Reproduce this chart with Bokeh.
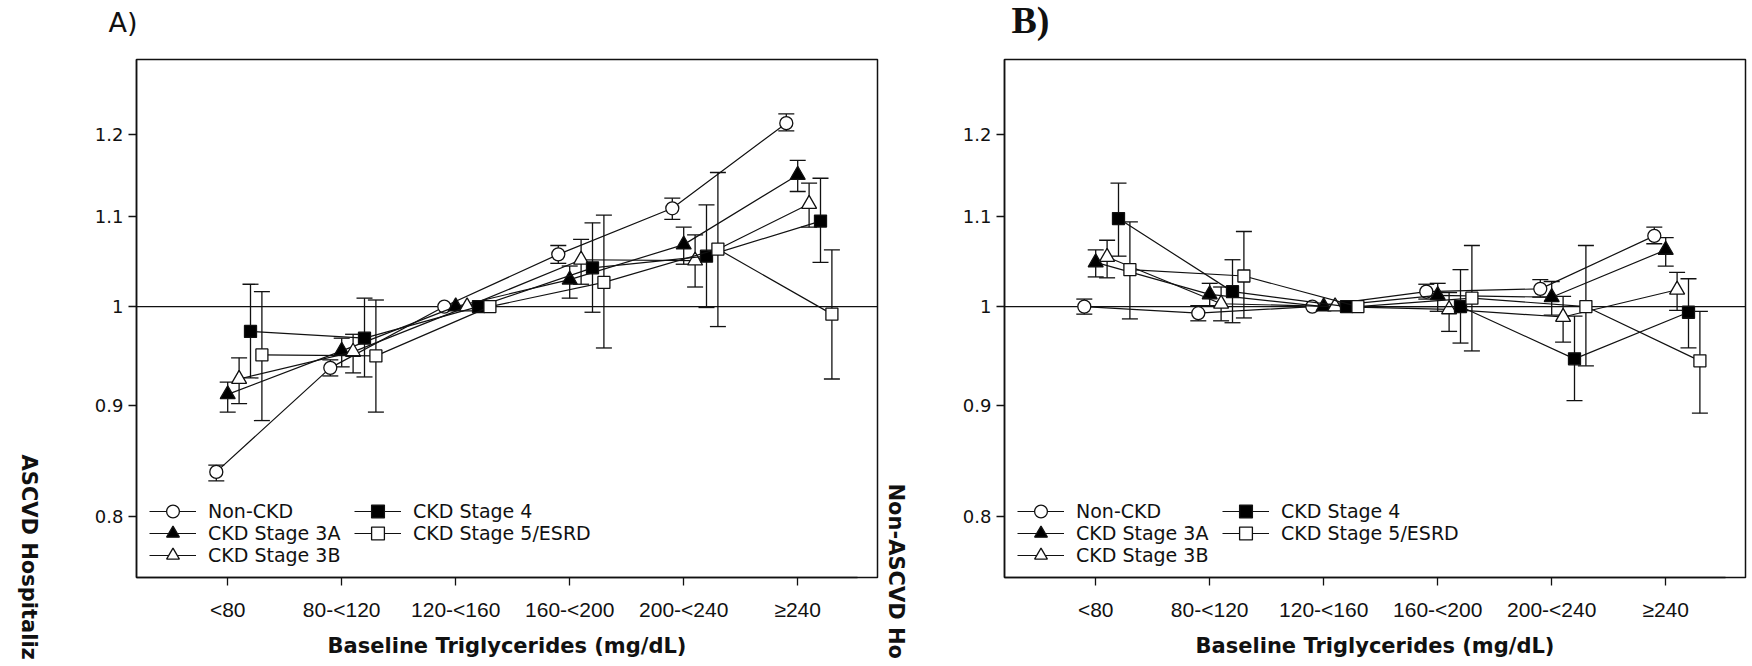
import math
from bokeh.plotting import figure
from bokeh.layouts import row, column
from bokeh.models import (Range1d, FixedTicker, Span, Label, Legend, LegendItem, Title,
                          Whisker, TeeHead, ColumnDataSource, CustomJSTickFormatter)
from bokeh.embed import file_html
from bokeh.resources import INLINE

# ---------------- data ----------------
categories = ["<80", "80-<120", "120-<160", "160-<200", "200-<240", "≥240"]
series_names = ["Non-CKD", "CKD Stage 3A", "CKD Stage 3B", "CKD Stage 4", "CKD Stage 5/ESRD"]
y_ticks = [0.8, 0.9, 1.0, 1.1, 1.2]

# Panel A (ASCVD hospitalization)
a_nonckd = [0.839, 0.937, 1.0, 1.057, 1.110, 1.215]
a_nonckd_lo = [0.831, 0.929, None, 1.047, 1.097, 1.205]
a_nonckd_hi = [0.845, 0.945, None, 1.067, 1.122, 1.227]
a_3a = [0.911, 0.954, 1.0, 1.029, 1.068, 1.150]
a_3a_lo = [0.894, 0.938, None, 1.009, 1.046, 1.130]
a_3a_hi = [0.923, 0.967, None, 1.044, 1.088, 1.168]
a_3b = [0.926, 0.953, 1.0, 1.051, 1.050, 1.115]
a_3b_lo = [0.902, 0.932, None, 1.024, 1.021, 1.088]
a_3b_hi = [0.947, 0.971, None, 1.074, 1.079, 1.140]
a_4 = [0.974, 0.967, 1.0, 1.042, 1.055, 1.095]
a_4_lo = [0.927, 0.928, None, 0.994, 0.999, 1.048]
a_4_hi = [1.024, 1.009, None, 1.093, 1.114, 1.146]
a_5 = [0.950, 0.949, 1.0, 1.026, 1.063, 0.992]
a_5_lo = [0.886, 0.894, None, 0.957, 0.979, 0.926]
a_5_hi = [1.016, 1.007, None, 1.102, 1.153, 1.062]

# Panel B (non-ASCVD hospitalization)
b_nonckd = [1.000, 0.993, 1.0, 1.016, 1.019, 1.078]
b_nonckd_lo = [0.992, 0.985, None, 1.008, 1.010, 1.069]
b_nonckd_hi = [1.008, 1.001, None, 1.024, 1.029, 1.088]
b_3a = [1.048, 1.013, 1.0, 1.012, 1.010, 1.062]
b_3a_lo = [1.032, 1.001, None, 0.995, 0.991, 1.044]
b_3a_hi = [1.062, 1.025, None, 1.025, 1.027, 1.076]
b_3b = [1.054, 1.003, 1.0, 0.997, 0.989, 1.018]
b_3b_lo = [1.031, 0.985, None, 0.974, 0.963, 0.996]
b_3b_hi = [1.073, 1.021, None, 1.015, 1.011, 1.037]
b_4 = [1.098, 1.016, 1.0, 1.000, 0.946, 0.994]
b_4_lo = [1.055, 0.983, None, 0.962, 0.905, 0.957]
b_4_hi = [1.140, 1.051, None, 1.040, 0.990, 1.030]
b_5 = [1.040, 1.033, 1.0, 1.009, 1.000, 0.944]
b_5_lo = [0.987, 0.988, None, 0.954, 0.939, 0.893]
b_5_hi = [1.094, 1.083, None, 1.067, 1.067, 0.995]

panel_a = [(a_nonckd, a_nonckd_lo, a_nonckd_hi), (a_3a, a_3a_lo, a_3a_hi),
           (a_3b, a_3b_lo, a_3b_hi), (a_4, a_4_lo, a_4_hi), (a_5, a_5_lo, a_5_hi)]
panel_b = [(b_nonckd, b_nonckd_lo, b_nonckd_hi), (b_3a, b_3a_lo, b_3a_hi),
           (b_3b, b_3b_lo, b_3b_hi), (b_4, b_4_lo, b_4_hi), (b_5, b_5_lo, b_5_hi)]

# ---------------- layout / styles ----------------
X_START, X_END = 0.2, 6.7
X_AXIS_BOUNDS = (0.2, 6.525)   # shifts the centred x-axis title slightly left, as in the original
Y_START, Y_END = 0.75, 1.3
STRIP_H = 45          # strip above the panels holding the "A)" / "B)" letters
ROW_H = 619           # height of the row holding the panels
dodge_offsets = [-0.1, 0.0, 0.1, 0.2, 0.3]
markers = ["circle", "triangle", "triangle", "square", "square"]
fills = ["white", "black", "white", "black", "white"]
sizes = [13, 15, 15, 12, 12]
INK = "#111111"
SANS = "DejaVu Sans"


def blank(width, height):
    p = figure(width=width, height=height, x_range=Range1d(0, 1), y_range=Range1d(0, 1),
               min_border=0, x_axis_location=None, y_axis_location=None,
               output_backend="svg", toolbar_location=None)
    p.grid.visible = False
    p.outline_line_color = None
    p.background_fill_color = "white"
    p.border_fill_color = "white"
    return p


def make_panel(width, min_left, min_right, data):
    p = figure(width=width, height=ROW_H, x_range=Range1d(X_START, X_END),
               y_range=Range1d(Y_START, Y_END), y_axis_type="log",
               output_backend="svg", toolbar_location=None,
               min_border_left=min_left, min_border_right=min_right,
               min_border_top=14, min_border_bottom=87)
    p.xgrid.visible = False
    p.ygrid.visible = False
    p.outline_line_color = INK
    p.outline_line_width = 1.5
    p.background_fill_color = "white"
    p.border_fill_color = "white"

    xa = p.xaxis[0]
    xa.bounds = X_AXIS_BOUNDS
    xa.ticker = FixedTicker(ticks=list(range(1, len(categories) + 1)), minor_ticks=[])
    xa.major_label_overrides = {i + 1: c for i, c in enumerate(categories)}
    xa.major_tick_in = 0
    xa.major_tick_out = 8
    xa.major_tick_line_width = 1.3
    xa.major_tick_line_color = INK
    xa.axis_line_color = INK
    xa.axis_line_width = 1.5
    xa.major_label_text_font = "Liberation Sans"
    xa.major_label_text_font_size = "21px"
    xa.major_label_text_color = INK
    xa.major_label_standoff = 12
    xa.axis_label = "Baseline Triglycerides (mg/dL)"
    xa.axis_label_text_font = SANS
    xa.axis_label_text_font_style = "bold"
    xa.axis_label_text_font_size = "21px"
    xa.axis_label_text_color = INK
    xa.axis_label_standoff = 10

    ya = p.yaxis[0]
    ya.ticker = FixedTicker(ticks=y_ticks, minor_ticks=[])
    ya.formatter = CustomJSTickFormatter(code="return tick.toString();")
    ya.major_tick_in = 0
    ya.major_tick_out = 8
    ya.major_tick_line_width = 1.3
    ya.major_tick_line_color = INK
    ya.minor_tick_line_color = None
    ya.axis_line_color = INK
    ya.axis_line_width = 1.5
    ya.major_label_text_font = SANS
    ya.major_label_text_font_size = "18px"
    ya.major_label_text_color = INK
    ya.major_label_standoff = 5

    p.add_layout(Span(location=1.0, dimension="width", line_color=INK,
                      line_width=1.3, level="underlay"))

    items = []
    for s, (est, lo, hi) in enumerate(data):
        xs = [i + 1 + dodge_offsets[s] for i in range(len(categories))]
        src = ColumnDataSource(dict(x=xs, y=est))
        wx = [x for x, l in zip(xs, lo) if l is not None]
        wl = [l for l in lo if l is not None]
        wh = [h for h in hi if h is not None]
        wsrc = ColumnDataSource(dict(x=wx, lower=wl, upper=wh))
        p.add_layout(Whisker(source=wsrc, base="x", lower="lower", upper="upper",
                             dimension="height", line_color=INK, line_width=1.3,
                             level="underlay",
                             upper_head=TeeHead(size=16, line_color=INK, line_width=1.3),
                             lower_head=TeeHead(size=16, line_color=INK, line_width=1.3)))
        lr = p.line("x", "y", source=src, line_color=INK, line_width=1.2)
        sr = p.scatter("x", "y", source=src, marker=markers[s], size=sizes[s],
                       fill_color=fills[s], line_color=INK, line_width=1.3)
        items.append(LegendItem(label=series_names[s], renderers=[lr, sr]))

    # one legend per entry, arranged in two columns like the original
    legend_pos = [(13, 50), (13, 28), (13, 6), (218, 50), (218, 28)]
    for item, loc in zip(items, legend_pos):
        p.add_layout(Legend(items=[item], location=loc, orientation="vertical",
                            glyph_width=47, glyph_height=32, label_height=22,
                            spacing=0, padding=0, margin=0, label_standoff=12,
                            border_line_color=None, background_fill_alpha=0,
                            label_text_font=SANS, label_text_font_size="19px",
                            label_text_color=INK))
    return p


def ytitle_strip(width, text, start_below_frame_top):
    """narrow figure whose right-side title is a y-axis title reading top to bottom"""
    f = blank(width, ROW_H)
    f.add_layout(Title(text=text, align="left", vertical_align="middle",
                       offset=start_below_frame_top, standoff=0,
                       text_font=SANS, text_font_style="bold",
                       text_font_size="21px", text_color=INK), "right")
    return f


# letters strip
letters = blank(1750, STRIP_H)
letters.add_layout(Label(x=108, y=23, x_units="screen", y_units="screen", text="A)",
                         text_font=SANS, text_font_size="27px", text_color=INK,
                         text_align="left", text_baseline="middle"))
letters.add_layout(Label(x=1011, y=26, x_units="screen", y_units="screen", text="B)",
                         text_font="Liberation Serif", text_font_style="bold",
                         text_font_size="38px", text_color=INK,
                         text_align="left", text_baseline="middle"))

fa = ytitle_strip(41, "ASCVD Hospitaliz", 395)
pa = make_panel(838, 95, 2, panel_a)
fb = ytitle_strip(29, "Non-ASCVD Ho", 424)
pb = make_panel(842, 96, 5, panel_b)

layout = column(letters, row(fa, pa, fb, pb))
open("out.html", "w").write(file_html(layout, INLINE))
